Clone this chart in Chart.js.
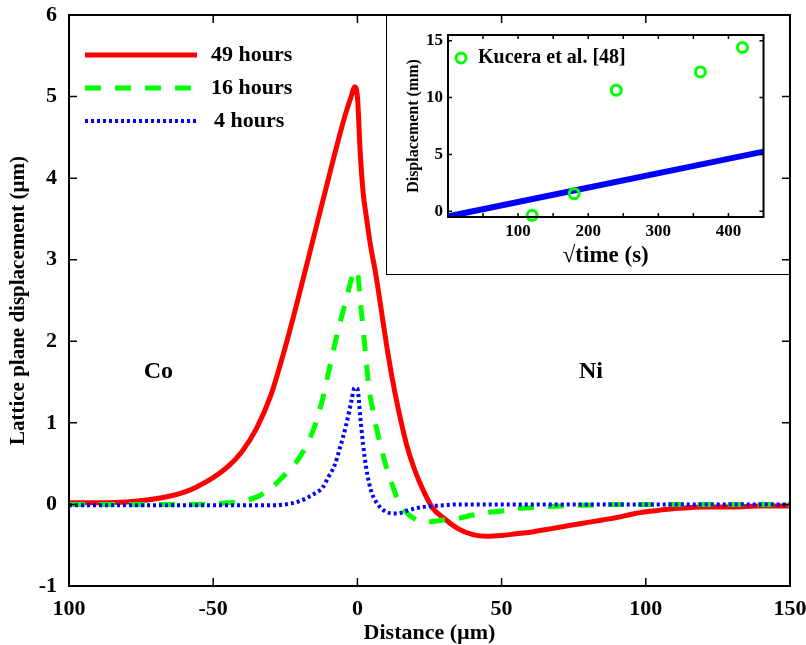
<!DOCTYPE html>
<html>
<head>
<meta charset="utf-8">
<script src="https://cdn.jsdelivr.net/npm/chart.js@4/dist/chart.umd.min.js"></script>
<style>
html, body { margin: 0; padding: 0; background: #fff; }
#wrap { position: relative; width: 806px; height: 645px; }
#main { position: absolute; left: 0; top: 0; }
#inset { position: absolute; left: 386px; top: 15px; }
</style>
</head>
<body>
<div id="wrap">
<canvas id="main" width="806" height="645"></canvas>
<canvas id="inset" width="406" height="261"></canvas>
</div>
<script>
// main plot: lattice plane displacement vs distance
var distance = [-100, -90, -80, -70, -60, -50, -45, -40, -35, -30, -25, -20, -15, -12, -10,
	-8, -6, -4, -2, -1, 0, 1, 2, 3, 4, 5, 6, 8, 10, 12, 14, 17, 20, 23, 26, 30, 35, 40, 45, 50,
	55, 60, 65, 70, 75, 80, 85, 90, 95, 100, 105, 110, 115, 120, 130, 140, 150];
var hours49 = [0.02, 0.02, 0.03, 0.07, 0.15, 0.33, 0.46, 0.65, 0.93, 1.34, 1.93, 2.6, 3.3, 3.72, 4.0,
	4.28, 4.55, 4.8, 5.02, 5.12, 5.0, 4.3, 3.82, 3.55, 3.3, 3.08, 2.9, 2.45, 1.98, 1.56, 1.2, 0.74, 0.41, 0.16, -0.04, -0.17, -0.3, -0.37, -0.39, -0.38,
	-0.36, -0.34, -0.31, -0.28, -0.25, -0.22, -0.19, -0.16, -0.12, -0.09, -0.07, -0.05, -0.04, -0.03, -0.03, -0.02, -0.02];
var hours16 = [0, 0, 0, 0, 0, 0.005, 0.02, 0.045, 0.09, 0.2, 0.37, 0.58, 0.94, 1.3, 1.62,
	1.94, 2.23, 2.5, 2.77, 2.87, 2.85, 2.5, 2.15, 1.78, 1.42, 1.22, 1.03, 0.73, 0.46, 0.25, 0.06, -0.1, -0.18, -0.22, -0.21, -0.19, -0.17, -0.13, -0.1, -0.08,
	-0.05, -0.04, -0.03, -0.02, -0.01, -0.01, 0, 0, 0, 0, 0, 0, 0, 0, 0, 0, 0];
var hours4 = [-0.01, -0.01, -0.01, -0.01, -0.01, -0.01, -0.01, -0.01, -0.01, -0.01, 0, 0.04, 0.13, 0.21, 0.34,
	0.47, 0.7, 0.96, 1.28, 1.43, 1.42, 1.07, 0.73, 0.46, 0.27, 0.14, 0.06, -0.04, -0.09, -0.11, -0.11, -0.08, -0.05, -0.03, -0.02, -0.01, 0, 0, 0, 0,
	0, 0, 0, 0, 0, 0, 0, 0, 0, 0, 0, 0, 0, 0, 0, 0, 0];
var distanceTicks = [-100, -50, 0, 50, 100, 150];
var displacementTicks = [-1, 0, 1, 2, 3, 4, 5, 6];

// inset: displacement vs sqrt(time)
var kuceraTime = [120, 180, 240, 360, 420];
var kuceraDisp = [-0.35, 1.55, 10.65, 12.25, 14.4];
var modelTime = [0, 450];
var modelDisp = [-0.45, 5.25];
var timeTicks = [100, 200, 300, 400];
var timeMarks = [50, 100, 150, 200, 250, 300, 350, 400];
var insetDispTicks = [0, 5, 10, 15];

var SERIF = '"Liberation Serif", "Times New Roman", Times, serif';

function toPoints(xs, ys) {
	var out = [];
	for (var i = 0; i < xs.length; i++) out.push({x: xs[i], y: ys[i]});
	return out;
}

function explicitTicks(values) {
	return function(scale) {
		scale.ticks = values.map(function(v) { return {value: v}; });
	};
}

function fixWidth(w) {
	return function(scale) {
		scale.width = w;
		scale.paddingTop = 0;
		scale.paddingBottom = 0;
	};
}

function fixHeight(h) {
	return function(scale) {
		scale.height = h;
		scale.paddingLeft = 0;
		scale.paddingRight = 0;
	};
}

// box with inward ticks on all sides (matlab style)
function drawBox(chart, xMarks, yMarks, tickLen, lineWidth) {
	var ctx = chart.ctx, a = chart.chartArea;
	var xs = chart.scales.x, ys = chart.scales.y;
	ctx.save();
	ctx.strokeStyle = '#000';
	ctx.lineWidth = 1.5;
	ctx.beginPath();
	xMarks.forEach(function(v) {
		var px = xs.getPixelForValue(v);
		ctx.moveTo(px, a.bottom); ctx.lineTo(px, a.bottom - tickLen);
		ctx.moveTo(px, a.top); ctx.lineTo(px, a.top + tickLen);
	});
	yMarks.forEach(function(v) {
		var py = ys.getPixelForValue(v);
		ctx.moveTo(a.left, py); ctx.lineTo(a.left + tickLen, py);
		ctx.moveTo(a.right, py); ctx.lineTo(a.right - tickLen, py);
	});
	ctx.stroke();
	ctx.lineWidth = lineWidth;
	ctx.strokeRect(a.left, a.top, a.right - a.left, a.bottom - a.top);
	ctx.restore();
}

var mainDecor = {
	id: 'mainDecor',
	afterDraw: function(chart) {
		var ctx = chart.ctx;
		drawBox(chart, distanceTicks, displacementTicks, 8, 2);

		// legend, no frame
		var rows = [55, 88, 121];
		ctx.save();
		chart.data.datasets.forEach(function(ds, i) {
			ctx.beginPath();
			ctx.strokeStyle = ds.borderColor;
			ctx.lineWidth = ds.borderWidth;
			ctx.setLineDash(ds.borderDash || []);
			ctx.moveTo(85, rows[i]);
			ctx.lineTo(197, rows[i]);
			ctx.stroke();
			ctx.setLineDash([]);
			ctx.fillStyle = '#000';
			ctx.font = 'bold 22px ' + SERIF;
			ctx.textBaseline = 'middle';
			ctx.textAlign = 'left';
			ctx.fillText(ds.label, i == 2 ? 214 : 211, rows[i]);
		});

		// region labels
		var xs = chart.scales.x, ys = chart.scales.y;
		ctx.font = 'bold 24px ' + SERIF;
		ctx.textAlign = 'center';
		ctx.fillText('Co', xs.getPixelForValue(-69), ys.getPixelForValue(1.62));
		ctx.fillText('Ni', xs.getPixelForValue(81), ys.getPixelForValue(1.62));
		ctx.restore();
	}
};

new Chart(document.getElementById('main'), {
	type: 'line',
	data: {
		datasets: [
			{label: '49 hours', data: toPoints(distance, hours49), borderColor: '#ff0000', borderWidth: 5, order: 3},
			{label: '16 hours', data: toPoints(distance, hours16), borderColor: '#00ff00', borderWidth: 5, borderDash: [16, 14], order: 2},
			{label: '4 hours', data: toPoints(distance, hours4), borderColor: '#0000ff', borderWidth: 4, borderDash: [3, 3], order: 1}
		]
	},
	options: {
		responsive: false,
		animation: false,
		elements: {
			point: {radius: 0},
			line: {cubicInterpolationMode: 'monotone', fill: false, borderJoinStyle: 'round'}
		},
		layout: {padding: {left: 0, top: 15, right: 16, bottom: 0}},
		plugins: {legend: {display: false}, tooltip: {enabled: false}},
		scales: {
			x: {
				type: 'linear', min: -100, max: 150,
				afterBuildTicks: explicitTicks(distanceTicks),
				afterFit: fixHeight(59),
				grid: {display: false, drawTicks: false}, border: {display: false},
				ticks: {
					color: '#000', padding: 10, maxRotation: 0,
					font: {family: SERIF, size: 22, weight: 'bold'},
					callback: function(v) { return v === -100 ? '100' : String(v); }
				},
				title: {display: true, text: 'Distance (\u00b5m)', color: '#000', padding: {top: 0, bottom: -2},
					font: {family: SERIF, size: 22, weight: 'bold'}}
			},
			y: {
				type: 'linear', min: -1, max: 6,
				afterBuildTicks: explicitTicks(displacementTicks),
				afterFit: fixWidth(69),
				grid: {display: false, drawTicks: false}, border: {display: false},
				ticks: {color: '#000', padding: 12, font: {family: SERIF, size: 22, weight: 'bold'}},
				title: {display: true, text: 'Lattice plane displacement (\u00b5m)', color: '#000', padding: {top: 6, bottom: 0},
					font: {family: SERIF, size: 21, weight: 'bold'}}
			}
		}
	},
	plugins: [mainDecor]
});

var insetDecor = {
	id: 'insetDecor',
	afterDraw: function(chart) {
		var ctx = chart.ctx;
		ctx.save();
		ctx.strokeStyle = '#000';
		ctx.lineWidth = 1;
		ctx.strokeRect(0.5, 0.5, 404, 259);
		ctx.restore();
		drawBox(chart, timeMarks, insetDispTicks, 4, 2);

		// legend entry for the circles
		var ds = chart.data.datasets[0];
		ctx.save();
		ctx.beginPath();
		ctx.strokeStyle = ds.borderColor;
		ctx.lineWidth = ds.borderWidth;
		ctx.arc(75, 43, ds.pointRadius, 0, Math.PI * 2);
		ctx.stroke();
		ctx.fillStyle = '#000';
		ctx.font = 'bold 20px ' + SERIF;
		ctx.textBaseline = 'middle';
		ctx.fillText(ds.label, 92, 43);
		ctx.restore();
	}
};

new Chart(document.getElementById('inset'), {
	type: 'scatter',
	data: {
		datasets: [
			{label: 'Kucera et al. [48]', data: toPoints(kuceraTime, kuceraDisp), borderColor: '#00ff00', backgroundColor: 'rgba(0,0,0,0)',
				pointRadius: 5, borderWidth: 3, clip: false, order: 1},
			{label: 'model', type: 'line', data: toPoints(modelTime, modelDisp), borderColor: '#0000ff', borderWidth: 6,
				pointRadius: 0, fill: false, order: 2}
		]
	},
	options: {
		responsive: false,
		animation: false,
		layout: {padding: {left: 0, top: 20, right: 28.5, bottom: 0}},
		plugins: {legend: {display: false}, tooltip: {enabled: false}},
		scales: {
			x: {
				type: 'linear', min: 0, max: 450,
				afterBuildTicks: explicitTicks(timeTicks),
				afterFit: fixHeight(59),
				grid: {display: false, drawTicks: false}, border: {display: false},
				ticks: {color: '#000', padding: 4, maxRotation: 0, font: {family: SERIF, size: 17, weight: 'bold'}},
				title: {display: true, text: '\u221atime (s)', color: '#000', padding: {top: 0, bottom: 6},
					font: {family: SERIF, size: 23, weight: 'bold'}}
			},
			y: {
				type: 'linear', min: -0.5, max: 15.5,
				afterBuildTicks: explicitTicks(insetDispTicks),
				afterFit: fixWidth(62),
				grid: {display: false, drawTicks: false}, border: {display: false},
				ticks: {color: '#000', padding: 5, font: {family: SERIF, size: 17, weight: 'bold'}},
				title: {display: true, text: 'Displacement (mm)', color: '#000', padding: {top: 18, bottom: 0},
					font: {family: SERIF, size: 16, weight: 'bold'}}
			}
		}
	},
	plugins: [insetDecor]
});
</script>
</body>
</html>
